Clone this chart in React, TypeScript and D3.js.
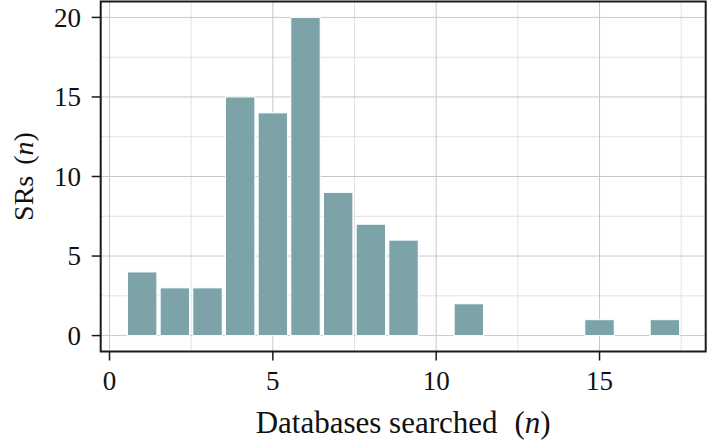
import React from 'react'
import { scaleLinear } from 'd3'

// number of databases searched per SR, and how many SRs used that many
const databases = [1, 2, 3, 4, 5, 6, 7, 8, 9, 11, 15, 17]
const srCounts = [4, 3, 3, 15, 14, 20, 9, 7, 6, 2, 1, 1]
const xTicks = [0, 5, 10, 15]
const yTicks = [0, 5, 10, 15, 20]
const xMinor = [2.5, 7.5, 12.5, 17.5]
const yMinor = [2.5, 7.5, 12.5, 17.5]

function App() {
    const width = 708,
        height = 445
    const left = 100.7, right = 705.7, top = 1.5, bottom = 351.5
    const font = '"Liberation Serif", "Times New Roman", serif'
    const ink = '#111'

    const x = scaleLinear().domain([-0.27, 18.25]).range([left, right])
    const y = scaleLinear().domain([-1, 21]).range([bottom, top])
    const barW = x(0.9) - x(0)

    const data = databases.map((d, i) => ({ n: d, count: srCounts[i] }))

    return (
        <svg width={width} height={height} style={{ position: 'absolute', left: 0, top: 0, background: 'white' }}>
            <rect x={0} y={0} width={width} height={height} fill='white' />
            {/* minor grid */}
            {xMinor.map(d => (
                <line key={'xm' + d} x1={x(d)} x2={x(d)} y1={top} y2={bottom} stroke='#e2e2e2' strokeWidth={1} />
            ))}
            {yMinor.map(d => (
                <line key={'ym' + d} x1={left} x2={right} y1={y(d)} y2={y(d)} stroke='#e2e2e2' strokeWidth={1} />
            ))}
            {/* major grid */}
            {xTicks.map(d => (
                <line key={'xg' + d} x1={x(d)} x2={x(d)} y1={top} y2={bottom} stroke='#c8c8c8' strokeWidth={1} />
            ))}
            {yTicks.map(d => (
                <line key={'yg' + d} x1={left} x2={right} y1={y(d)} y2={y(d)} stroke='#c8c8c8' strokeWidth={1} />
            ))}

            {data.map(d => (
                <rect key={d.n} x={x(d.n) - barW / 2} y={y(d.count)} width={barW} height={y(0) - y(d.count)}
                    fill='#7ba3a8' stroke='white' strokeWidth={1} />
            ))}

            <rect x={left} y={top} width={right - left} height={bottom - top} fill='none' stroke='#1a1a1a' strokeWidth={2} />

            {/* x axis */}
            {xTicks.map(d => (
                <g key={'xt' + d}>
                    <line x1={x(d)} x2={x(d)} y1={bottom} y2={bottom + 9} stroke='#1a1a1a' strokeWidth={1.5} />
                    <text x={x(d)} y={390} textAnchor='middle' fontFamily={font} fontSize={27} fill={ink}>{d}</text>
                </g>
            ))}
            {/* y axis */}
            {yTicks.map(d => (
                <g key={'yt' + d}>
                    <line x1={left - 9} x2={left} y1={y(d)} y2={y(d)} stroke='#1a1a1a' strokeWidth={1.5} />
                    <text x={81} y={y(d)} dy='0.34em' textAnchor='end' fontFamily={font} fontSize={27} fill={ink}>{d}</text>
                </g>
            ))}

            <text x={(left + right) / 2} y={433} textAnchor='middle' fontFamily={font} fontSize={31} fill={ink}>
                Databases searched
                <tspan dx={17}>(</tspan>
                <tspan fontStyle='italic'>n</tspan>
                <tspan>)</tspan>
            </text>
            <text transform={`translate(33,${(top + bottom) / 2}) rotate(-90)`} textAnchor='middle' fontFamily={font} fontSize={28} fill={ink}>
                SRs
                <tspan dx={11}>(</tspan>
                <tspan fontStyle='italic'>n</tspan>
                <tspan>)</tspan>
            </text>
        </svg>
    )
}

export default App
